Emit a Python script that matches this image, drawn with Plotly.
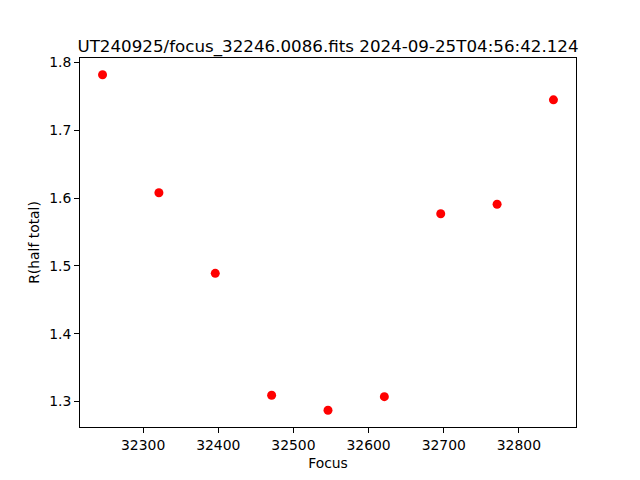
import plotly.graph_objects as go

focus = [32246, 32321, 32396, 32471, 32546, 32621, 32696, 32771, 32846]
r_half = [1.782, 1.608, 1.489, 1.309, 1.287, 1.307, 1.577, 1.591, 1.745]
title = "UT240925/focus_32246.0086.fits 2024-09-25T04:56:42.124"

fig = go.Figure(go.Scatter(x=focus, y=r_half, mode="markers",
                           marker=dict(color="red", size=9, line=dict(width=0))))

axis_common = dict(showline=True, linecolor="black", linewidth=1, mirror=True,
                   ticks="outside", ticklen=5, tickcolor="black", showgrid=False,
                   zeroline=False, tickfont=dict(size=13.9, color="black"))

# page body has an 8px margin, so shift the plot area back by 8px
fig.update_layout(
    width=640, height=480,
    margin=dict(l=72, r=72, t=50, b=61),
    paper_bgcolor="white", plot_bgcolor="white",
    font=dict(family="DejaVu Sans", color="black"),
    title=dict(text=title, x=0.5, xref="paper", xanchor="center",
               y=1, yref="paper", yanchor="bottom", pad=dict(b=6),
               font=dict(size=16.7, color="black")),
    xaxis=dict(range=[32216, 32876], tickvals=[32300, 32400, 32500, 32600, 32700, 32800],
               tickformat="d",
               title=dict(text="Focus", font=dict(size=13.9), standoff=6), **axis_common),
    yaxis=dict(range=[1.2622, 1.8068], tickvals=[1.3, 1.4, 1.5, 1.6, 1.7, 1.8],
               tickformat=".1f",
               title=dict(text="R(half total)", font=dict(size=13.9), standoff=6), **axis_common),
    showlegend=False,
)

fig.write_html("out.html")
